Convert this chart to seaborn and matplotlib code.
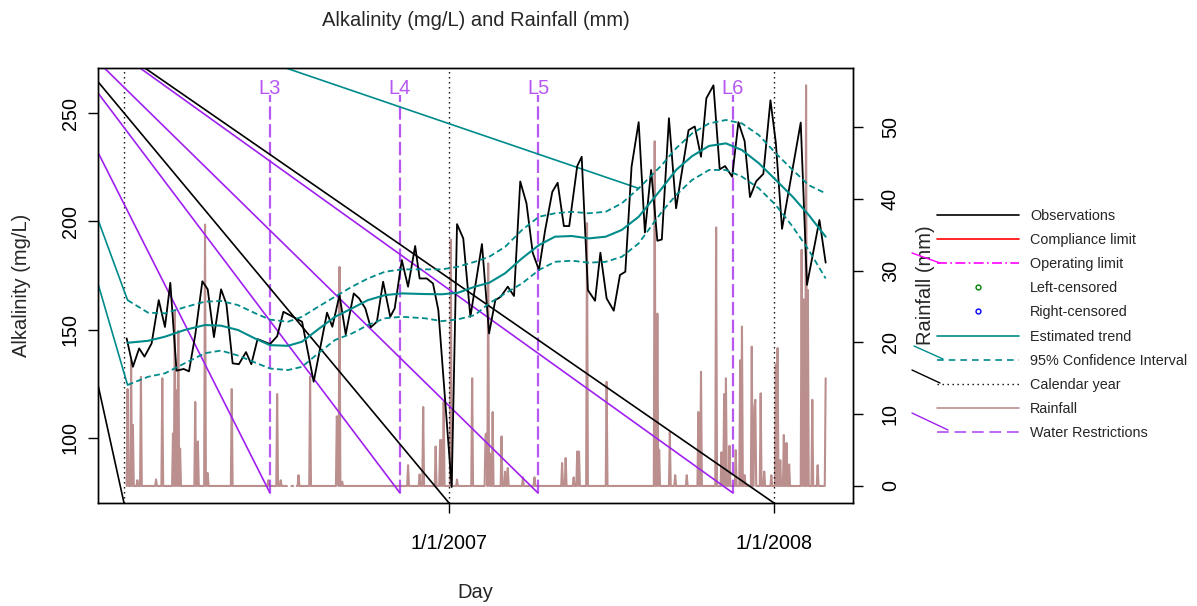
import numpy as np
import pandas as pd
import matplotlib
matplotlib.use("Agg")
import matplotlib.pyplot as plt
from matplotlib.lines import Line2D
import seaborn as sns

START = pd.Timestamp("2006-01-01")

# observations (days since 1/1/2006, mg/L)
obs_day = [3, 10, 17, 23, 31, 39, 46, 52, 59, 67, 73, 80, 88, 94, 101, 109, 115, 122, 129, 137,
           143, 150, 164, 172, 179, 186, 200, 213, 228, 234, 242, 249, 258, 264, 271, 277, 284, 291, 299, 304,
           312, 319, 327, 332, 340, 347, 353, 368, 374, 381, 389, 402, 410, 417, 423, 431, 438, 445, 452, 459,
           466, 473, 481, 487, 494, 500, 509, 514, 521, 529, 535, 542, 550, 557, 563, 570, 578, 585, 592, 599,
           604, 612, 620, 634, 641, 648, 654, 662, 669, 675, 683, 690, 697, 703, 710, 718, 726, 732, 739, 760,
           767, 781, 788]
obs_val = [145.9, 132.8, 141.3, 137.5, 143.6, 163.6, 151.2, 171.6, 131.0, 131.8, 130.7, 147.5, 172.3, 168.6,
           146.5, 168.6, 161.8, 134.4, 134.0, 139.6, 134.0, 145.6, 143.3, 146.9, 158.2, 156.7, 153.6, 125.9,
           157.8, 151.3, 165.9, 147.8, 166.7, 164.4, 159.8, 151.0, 153.6, 172.1, 155.9, 159.8, 182.1, 169.8,
           188.6, 173.6, 173.6, 171.3, 159.0, 77.3, 198.7, 192.1, 155.9, 189.5, 148.2, 163.6, 165.1, 169.8,
           165.5, 218.4, 208.3, 185.5, 177.5, 196.0, 213.6, 217.8, 197.8, 197.8, 225.5, 229.8, 168.2, 163.3,
           185.5, 164.4, 158.7, 175.2, 176.7, 225.2, 245.8, 194.8, 223.7, 191.0, 191.6, 247.6, 206.0, 242.1,
           243.8, 229.8, 256.8, 262.8, 224.0, 225.5, 220.6, 245.8, 237.0, 211.2, 218.5, 221.9, 255.9, 236.4,
           196.5, 245.6, 170.6, 200.6, 180.9]

# estimated trend and 95% confidence interval
trend_day = [4, 27, 46, 68, 91, 109, 128, 147, 164, 184, 200, 218, 237, 256, 274, 293, 312, 338, 357, 375,
             394, 410, 428, 447, 466, 484, 503, 522, 541, 559, 578, 604, 620, 638, 657, 676, 694, 713, 732, 751,
             769, 788]
trend_fit = [143.9, 144.8, 146.7, 149.8, 152.1, 151.8, 149.8, 145.9, 142.8, 142.5, 144.4, 150.1, 155.9, 159.8,
             163.6, 165.9, 166.7, 166.4, 166.3, 167.0, 169.8, 171.6, 176.0, 182.9, 189.0, 192.9, 193.2, 192.1,
             192.9, 196.0, 202.1, 215.2, 223.7, 230.1, 234.8, 236.0, 232.9, 226.8, 219.1, 211.3, 202.9, 192.9]
trend_upper = [163.6, 157.8, 157.5, 160.3, 162.9, 163.2, 161.3, 157.6, 154.6, 153.6, 155.9, 160.5, 165.2, 169.8,
               173.6, 176.7, 177.8, 177.8, 177.8, 179.0, 181.3, 183.6, 188.2, 196.0, 202.1, 203.7, 204.4, 203.7,
               204.4, 208.3, 215.2, 226.0, 233.7, 240.6, 245.2, 246.8, 245.2, 239.8, 231.4, 223.7, 216.7, 212.9]
trend_lower = [124.4, 128.2, 129.8, 134.4, 139.1, 140.3, 138.0, 134.8, 132.0, 131.3, 132.8, 139.0, 145.2, 148.2,
               152.1, 155.2, 155.9, 155.2, 153.9, 154.7, 156.7, 162.1, 166.7, 171.3, 177.5, 181.3, 181.8, 180.9,
               181.3, 183.6, 189.8, 204.4, 212.1, 219.1, 223.7, 223.7, 220.6, 215.2, 207.5, 197.5, 186.7, 173.6]

# daily rainfall: days with rain (mm), all other days 0, some days missing
rain_first, rain_last = 3, 788
rain_day = [4, 8, 10, 15, 19, 36, 43, 55, 57, 59, 61, 63, 80, 83, 91, 94, 121, 162, 172, 176,
            196, 209, 239, 240, 242, 245, 319, 332, 336, 350, 355, 357, 359, 367, 374, 391,
            406, 407, 409, 411, 414, 424, 428, 431, 448, 461, 492, 496, 505, 509, 511, 520, 542, 596, 599, 601,
            613, 619, 632, 645, 648, 665, 671, 674, 676, 680, 687, 692, 694, 697, 705, 708, 709, 715, 719, 727,
            732, 734, 737, 741, 744, 747, 761, 763, 766, 768, 773, 779, 788]
rain_mm = [13.5, 17.5, 8.5, 0.8, 15.2, 0.9, 15.0, 7.3, 24.3, 13.3, 21.6, 5.2, 11.7, 6.2, 36.4, 1.8, 13.5, 0.8, 12.8, 0.8,
           1.5, 15.2, 9.7, 7.0, 30.5, 0.6, 2.9, 1.6, 11.0, 5.5, 6.4, 6.4, 11.7, 34.3, 0.9, 15.0,
           7.1, 7.3, 31.0, 4.5, 10.3, 6.9, 2.0, 2.5, 1.2, 1.2, 3.2, 3.9, 1.2, 4.8, 4.8, 36.6, 14.5, 48.0, 24.0, 5.0,
           7.5, 1.5, 1.5, 10.3, 15.9, 36.0, 4.7, 12.8, 15.0, 5.6, 5.0, 17.5, 22.2, 1.5, 19.4, 11.0, 12.0, 12.9, 2.0, 1.5,
           16.9, 19.2, 3.6, 7.1, 6.0, 3.0, 32.9, 26.0, 55.8, 27.3, 12.0, 2.9, 15.0]
rain_missing = [184, 185, 186, 187, 191, 192, 193]

year_starts = ["2006-01-01", "2007-01-01", "2008-01-01"]
restrict_dates = ["2006-06-14", "2006-11-07", "2007-04-11", "2007-11-16"]
restrict_labels = ["L3", "L4", "L5", "L6"]

# stray segments (drawn from one off-plot point in the original)
stray_anchor = (-131, 314.7)

YLIM = (69.9, 270.8)
RLIM = (-2.37, 58.2)
XLIM_DAYS = (-29.2, 818.7)

TEAL = "#008B8B"
PURPLE = "#A020F0"
RAIN = "#BC8F8F"


def to_date(days):
    return START + pd.to_timedelta(np.asarray(days, dtype=float), unit="D")


sns.set_theme(style="ticks")
plt.rcParams["font.family"] = ["Liberation Sans", "DejaVu Sans"]

fig = plt.figure(figsize=(11.97, 6.06), dpi=100)
ax = fig.add_axes([98 / 1197, 103 / 606, 755 / 1197, 435 / 606])
ax2 = ax.twinx()
ax.set_zorder(ax2.get_zorder() + 1)
ax.patch.set_visible(False)

# rainfall on the right axis
rain = pd.Series(0.0, index=np.arange(rain_first, rain_last + 1))
rain.loc[rain_day] = rain_mm
rain.loc[rain_missing] = np.nan
ax2.plot(to_date(rain.index), rain.values, color=RAIN, lw=1.5)
ax2.set_ylim(*RLIM)

# calendar year lines
for d in year_starts:
    ax.axvline(pd.Timestamp(d), color="black", lw=1.0, linestyle=(0, (1, 2.6)))

# water restrictions
r_dates = pd.to_datetime(restrict_dates)
for d, lab in zip(r_dates, restrict_labels):
    ax.plot([d, d], [74.5, 258.5], color=PURPLE, alpha=0.75, lw=1.6, linestyle=(0, (6, 2)))
    ax.text(d, 261.5, lab, color=PURPLE, alpha=0.75, fontsize=14.5, ha="center", va="center")

# stray lines
anchor_x = to_date([stray_anchor[0]])[0]
for d in year_starts:
    ax.plot([anchor_x, pd.Timestamp(d)], [stray_anchor[1], YLIM[0]], color="black", lw=1.2)
for d in r_dates:
    ax.plot([anchor_x, d], [stray_anchor[1], 74.5], color=PURPLE, lw=1.2)
for x, y in [(trend_day[0], trend_upper[0]), (trend_day[0], trend_lower[0]), (trend_day[30], trend_upper[30])]:
    ax.plot([anchor_x, to_date([x])[0]], [stray_anchor[1], y], color=TEAL, lw=1.2)

# observations and trend
sns.lineplot(x=to_date(obs_day), y=obs_val, ax=ax, color="black", lw=1.3, sort=False, estimator=None)
sns.lineplot(x=to_date(trend_day), y=trend_fit, ax=ax, color=TEAL, lw=1.5, sort=False, estimator=None)
for band in (trend_upper, trend_lower):
    sns.lineplot(x=to_date(trend_day), y=band, ax=ax, color=TEAL, lw=1.3, sort=False, estimator=None,
                 linestyle=(0, (3.3, 1.9)))

ax.set_xlim(to_date([XLIM_DAYS[0]])[0], to_date([XLIM_DAYS[1]])[0])
ax.set_ylim(*YLIM)
ax.set_xticks(pd.to_datetime(["2007-01-01", "2008-01-01"]))
ax.set_xticklabels(["1/1/2007", "1/1/2008"])

for a in (ax, ax2):
    for s in a.spines.values():
        s.set_visible(True)
        s.set_color("black")
        s.set_linewidth(1.0)
ax.tick_params(axis="both", colors="black", labelsize=14.2, length=7, width=1.0, direction="out")
ax.tick_params(axis="x", pad=15)
ax.tick_params(axis="y", pad=6)
ax2.tick_params(axis="y", colors="black", labelsize=14.2, length=7, width=1.0, pad=13)

left_ticks = [100, 150, 200, 250]
ax.set_yticks(left_ticks)
ax.set_yticklabels([str(t) for t in left_ticks], rotation=90, rotation_mode="default", ha="right", va="center")
right_ticks = [0, 10, 20, 30, 40, 50]
ax2.set_yticks(right_ticks)
ax2.set_yticklabels([str(t) for t in right_ticks], rotation=90, rotation_mode="default", ha="left", va="center")

ax.set_xlabel("Day", fontsize=14.5)
ax.xaxis.set_label_coords(0.5, -0.205)
ax.xaxis.label.set_va("center")
ax.set_ylabel("Alkalinity (mg/L)", fontsize=14.5)
ax.yaxis.set_label_coords(-0.1007, 0.5)
ax.yaxis.label.set_va("center")
ax2.set_ylabel("Rainfall (mm)", fontsize=14.5, rotation=90)
ax2.yaxis.set_label_coords(1.0954, 0.5)
ax2.yaxis.label.set_va("center")
ax.set_title("Alkalinity (mg/L) and Rainfall (mm)", fontsize=14.5, y=1.110, va="center", pad=0)

handles = [
    Line2D([], [], color="black", lw=1.2),
    Line2D([], [], color="red", lw=1.2),
    Line2D([], [], color="magenta", lw=1.2, linestyle=(0, (6, 2, 1, 2))),
    Line2D([], [], color="green", lw=0, marker="o", mfc="none", ms=3.5),
    Line2D([], [], color="blue", lw=0, marker="o", mfc="none", ms=3.5),
    Line2D([], [], color=TEAL, lw=1.2),
    Line2D([], [], color=TEAL, lw=1.2, linestyle=(0, (4, 3))),
    Line2D([], [], color="black", lw=1.0, linestyle=(0, (1, 2.6))),
    Line2D([], [], color=RAIN, lw=1.2),
    Line2D([], [], color=PURPLE, alpha=0.8, lw=1.2, linestyle=(0, (7, 3.5))),
]
labels = ["Observations", "Compliance limit", "Operating limit", "Left-censored", "Right-censored",
          "Estimated trend", "95% Confidence Interval", "Calendar year", "Rainfall", "Water Restrictions"]
fig.legend(handles, labels, loc="upper left", bbox_to_anchor=(937 / 1197, 1 - 209 / 606), frameon=False,
           fontsize=10.4, handlelength=5.7, handletextpad=0.76, labelspacing=0.7, borderpad=0,
           borderaxespad=0)

# small stray strokes next to the legend keys (figure pixels)
legend_strays = [
    ("magenta", (912, 253), (940, 263)),
    (TEAL, (914, 346), (943, 359)),
    ("black", (912, 370), (940, 383)),
    (PURPLE, (912, 413), (948, 430)),
]
for color, p0, p1 in legend_strays:
    fig.add_artist(Line2D([p0[0] / 1197, p1[0] / 1197], [1 - p0[1] / 606, 1 - p1[1] / 606],
                          color=color, lw=1.0, transform=fig.transFigure))

fig.savefig("out.png", dpi=100)
